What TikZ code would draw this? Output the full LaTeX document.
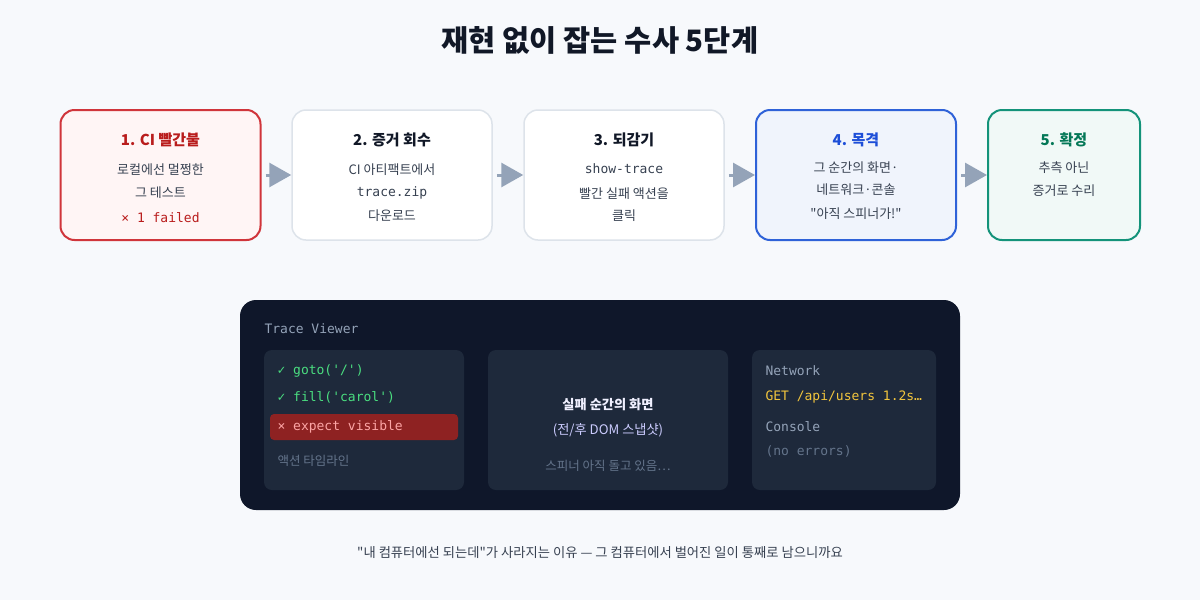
\documentclass[tikz,border=0pt]{standalone}
\usepackage{fontspec}
\newfontfamily\kr{Noto Sans CJK KR}
\setmonofont{DejaVu Sans Mono}
\usepackage{tikz}
\usetikzlibrary{arrows.meta}
\definecolor{sfondo}{HTML}{F7F9FC}
\definecolor{inchiostro}{HTML}{111827}
\definecolor{testo}{HTML}{374151}
\definecolor{grigio}{HTML}{DDE3EA}
\definecolor{freccia}{HTML}{94A3B8}
\definecolor{rosso}{HTML}{D0353B}
\definecolor{rossoscuro}{HTML}{B91C1C}
\definecolor{blu}{HTML}{2F62D8}
\definecolor{bluscuro}{HTML}{1D4ED8}
\definecolor{verde}{HTML}{14937A}
\definecolor{verdescuro}{HTML}{047857}
\definecolor{notte}{HTML}{0F172A}
\definecolor{pannello}{HTML}{1E293B}
\definecolor{lime}{HTML}{4ADE80}
\definecolor{giallo}{HTML}{F2C53D}
\definecolor{spento}{HTML}{64748B}
\definecolor{barra}{HTML}{8E2222}
\definecolor{rosa}{HTML}{FCA5A5}

\begin{document}
\kr
\begin{tikzpicture}[x=1pt,y=-1pt,
    stepbox/.style={rounded corners=14pt, minimum width=200pt, minimum height=130pt, line width=1.5pt, draw=grigio, fill=white},
    flow/.style={line width=3pt, color=freccia, shorten <=4pt, -{Triangle[length=22pt,width=24pt]}},
    titolo/.style={font=\bfseries\fontsize{15}{18}\selectfont},
    corpo/.style={font=\fontsize{13}{15}\selectfont, text=testo},
    codice/.style={font=\ttfamily\fontsize{13}{15}\selectfont},
    riquadro/.style={rounded corners=8pt, fill=pannello, minimum height=140pt}]
    \useasboundingbox[fill=sfondo] (0,0) rectangle (1200,600);

    \node[font=\bfseries\fontsize{29.5}{34}\selectfont, text=inchiostro] (head) at (600,40) {재현 없이 잡는 수사 5단계};

    % i cinque passi
    \node[stepbox, draw=rosso, fill=red!4, line width=2pt] (p1) at (160.5,175) {};
    \node[stepbox] (p2) at (392,175) {};
    \node[stepbox] (p3) at (624,175) {};
    \node[stepbox, draw=blu, fill=blu!7, line width=2pt] (p4) at (856,175) {};
    \node[stepbox, draw=verde, fill=verde!6, line width=2pt, minimum width=152pt] (p5) at (1064,175) {};
    \foreach \a/\b in {p1/p2,p2/p3,p3/p4,p4/p5}
        \draw[flow] (\a) -- (\b);

    \node[titolo, text=rossoscuro] (t1) at (160.5,140) {1. CI 빨간불};
    \node[corpo] (l1a) at (160.5,170) {로컬에선 멀쩡한};
    \node[corpo] (l1b) at (160.5,193) {그 테스트};
    \node[codice, text=rossoscuro] (l1c) at (160.5,218) {× 1 failed};

    \node[titolo, text=inchiostro] (t2) at (392,140) {2. 증거 회수};
    \node[corpo] (l2a) at (392,170) {CI 아티팩트에서};
    \node[codice, text=testo] (l2b) at (392,193) {trace.zip};
    \node[corpo] (l2c) at (392,216) {다운로드};

    \node[titolo, text=inchiostro] (t3) at (624,140) {3. 되감기};
    \node[codice, text=testo] (l3a) at (624,169) {show-trace};
    \node[corpo] (l3b) at (624,194) {빨간 실패 액션을};
    \node[corpo] (l3c) at (624,216) {클릭};

    \node[titolo, text=bluscuro] (t4) at (856,140) {4. 목격};
    \node[corpo] (l4a) at (856,168) {그 순간의 화면·};
    \node[corpo] (l4b) at (856,190) {네트워크·콘솔};
    \node[corpo] (l4c) at (856,214) {"아직 스피너가!"};

    \node[titolo, text=verdescuro] (t5) at (1064,140) {5. 확정};
    \node[corpo] (l5a) at (1064,168) {추측 아닌};
    \node[corpo] (l5b) at (1064,191) {증거로 수리};

    % trace viewer
    \node[rounded corners=16pt, fill=notte, minimum width=720pt, minimum height=210pt] (viewer) at (600,405) {};
    \node[codice, text=freccia, anchor=west] (vtitle) at (261,329) {Trace Viewer};

    \node[riquadro, minimum width=200pt] (timeline) at (364,420) {};
    \node[codice, text=lime, anchor=west] (a1) at (274,371) {✓ goto('/')};
    \node[codice, text=lime, anchor=west] (a2) at (274,397) {✓ fill('carol')};
    \node[rounded corners=4pt, fill=barra, minimum width=188pt, minimum height=26pt] (bad) at (364,427) {};
    \node[codice, text=rosa, anchor=west] (a3) at (274,427) {× expect visible};
    \node[font=\fontsize{12.5}{14}\selectfont, text=spento, anchor=west] (a4) at (274,461) {액션 타임라인};

    \node[riquadro, minimum width=240pt] (screen) at (608,420) {};
    \node[font=\bfseries\fontsize{13.2}{15}\selectfont, text=white!94!blue] (s1) at (608,405) {실패 순간의 화면};
    \node[font=\fontsize{13.2}{15}\selectfont, text=white!80!blue] (s2) at (608,430) {(전/후 DOM 스냅샷)};
    \node[font=\fontsize{12.5}{14}\selectfont, text=spento] (s3) at (608,466) {스피너 아직 돌고 있음…};

    \node[riquadro, minimum width=184pt] (net) at (844,420) {};
    \node[codice, text=freccia, anchor=west] (n1) at (762,371) {Network};
    \node[codice, text=giallo, anchor=west] (n2) at (762,397) {GET /api/users 1.2s…};
    \node[codice, text=freccia, anchor=west] (n3) at (762,427) {Console};
    \node[codice, text=spento, anchor=west] (n4) at (762,451) {(no errors)};

    \node[font=\fontsize{13.3}{16}\selectfont, text=testo] (nota) at (600,553) {"내 컴퓨터에선 되는데"가 사라지는 이유 — 그 컴퓨터에서 벌어진 일이 통째로 남으니까요};
\end{tikzpicture}
\end{document}
